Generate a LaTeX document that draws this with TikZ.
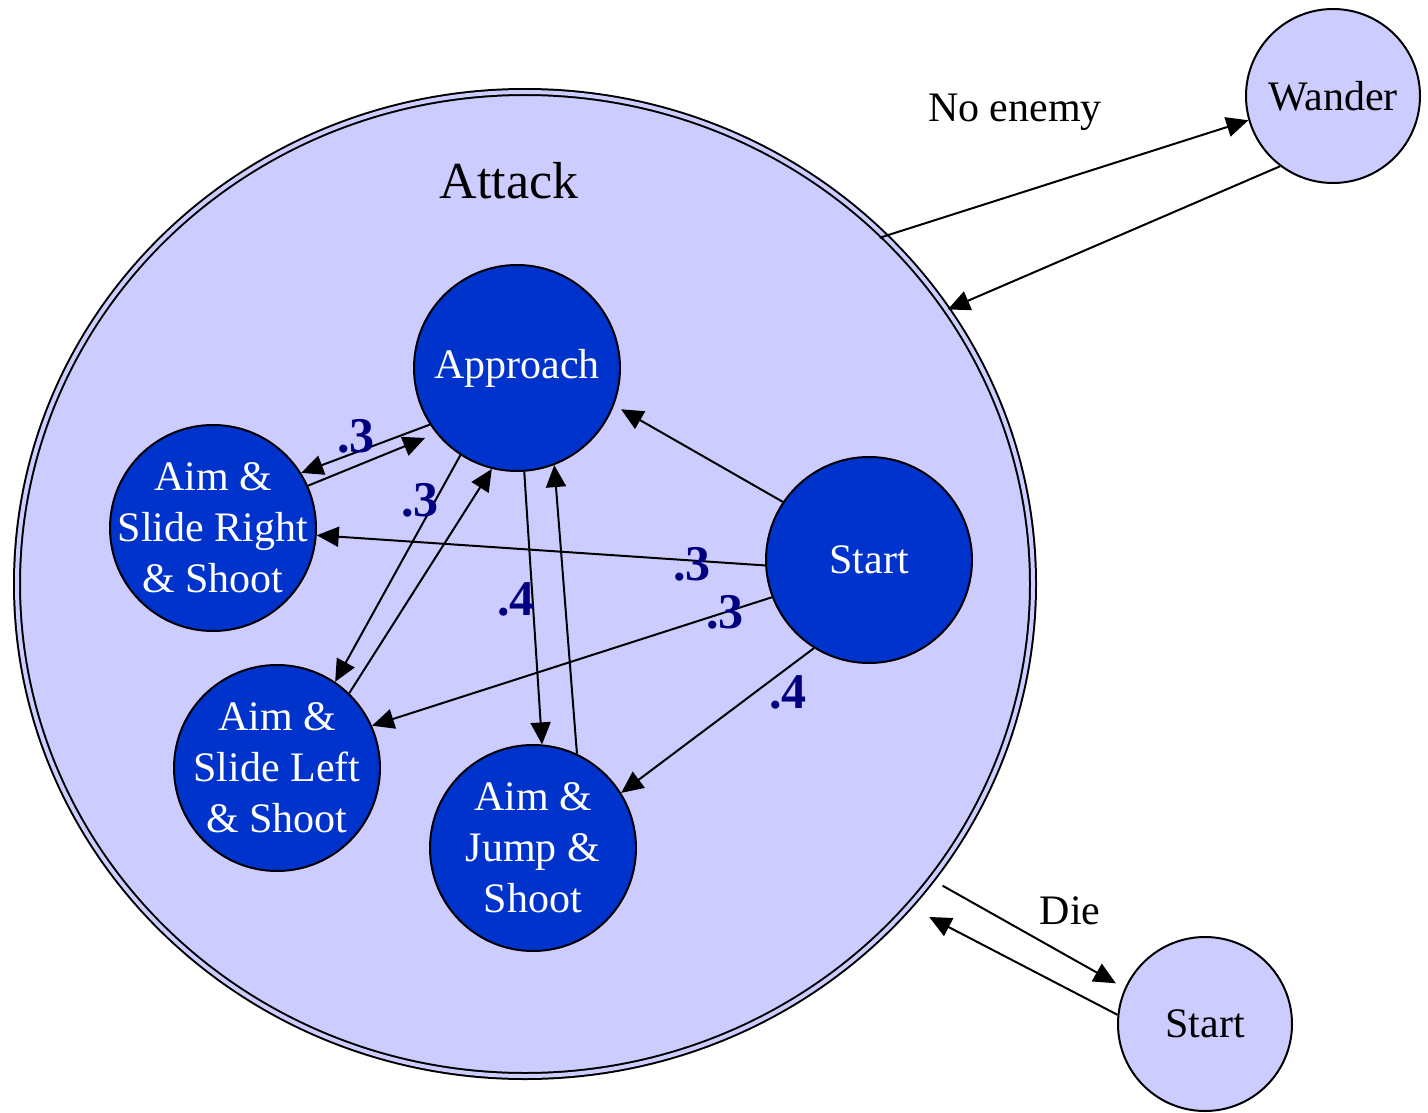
\documentclass[tikz,border=0pt]{standalone}
\usepackage{fontspec}
\setmainfont{Liberation Serif}
\usetikzlibrary{shapes.geometric,arrows.meta}
\definecolor{lav}{RGB}{204,204,255}
\definecolor{deepblue}{RGB}{0,51,204}
\definecolor{navyink}{RGB}{0,0,128}
\begin{document}
\begin{tikzpicture}[x=1pt,y=-1pt,
  outerstate/.style={circle,draw=black,line width=2pt,fill=lav,minimum size=174pt,inner sep=-20pt,
    font=\fontsize{42}{51}\selectfont},
  innerstate/.style={circle,draw=black,line width=2pt,fill=deepblue,minimum size=206pt,inner sep=-40pt,
    text=white,align=center,font=\fontsize{42}{51}\selectfont},
  plain/.style={font=\fontsize{42}{51}\selectfont,inner sep=0pt},
  prob/.style={font=\fontsize{50}{50}\selectfont\bfseries,text=navyink,inner sep=0pt},
  trans/.style={draw=black,line width=2pt,-{Triangle[length=22pt,width=20pt]}}]
\useasboundingbox (0,0) rectangle (1428,1113);

% superstate
\node[ellipse,draw=black,line width=2pt,double=lav,double distance=4pt,fill=lav,
      minimum width=1016pt,minimum height=984pt,inner sep=0pt] (attack) at (525,584) {};
\node[font=\fontsize{52}{52}\selectfont,inner sep=0pt] (attacklbl) at (509,181) {Attack};

% outer states
\node[outerstate] (wander) at (1333,96) {Wander};
\node[outerstate] (start2) at (1205,1024) {Start};

% inner states
\node[innerstate] (appr) at (517,368) {Approach};
\node[innerstate] (sr) at (213,528) {Aim \&\\Slide Right\\\& Shoot};
\node[innerstate] (st) at (869,560) {Start};
\node[innerstate] (sl) at (277,768) {Aim \&\\Slide Left\\\& Shoot};
\node[innerstate] (jump) at (533,848) {Aim \&\\Jump \&\\Shoot};

% transitions between superstate and outer states
\draw[trans,shorten <=-6pt] (attack.44.9) -- (wander.196.5);
\draw[trans] (wander.233.4) -- (attack.33.1);
\draw[trans,shorten <=12pt,shorten >=10pt] (attack.-36.2) -- (start2.156);
\draw[trans,shorten >=22pt] (start2.174.8) -- (attack.-40.1);
\node[plain] (noenemy) at (1015,112) {No enemy};
\node[plain] (die) at (1070,911) {Die};

% transitions inside Attack
\draw[trans] (appr.213.7) -- (sr.32.2);
\draw[trans,shorten >=12pt] (sr.24.7) -- (appr.219.4);
\draw[trans] (appr.237.7) -- (sl.56.9);
\draw[trans] (sl.46.9) -- (appr.256.5);
\draw[trans] (appr.274.3) -- (jump.85);
\draw[trans] (jump.65.6) -- (appr.291.5);
\draw[trans,shorten >=8pt] (st.146.8) -- (appr.339.1);
\draw[trans] (st.183.9) -- (sr.-4.9);
\draw[trans] (st.201.4) -- (sl.24.2);
\draw[trans] (st.238.1) -- (jump.32.2);

% transition probabilities
\node[prob] (p1) at (356,436) {.3};
\node[prob] (p2) at (420,500) {.3};
\node[prob] (p3) at (516,599) {.4};
\node[prob] (p4) at (692,564) {.3};
\node[prob] (p5) at (725,612) {.3};
\node[prob] (p6) at (788,692) {.4};
\end{tikzpicture}
\end{document}
